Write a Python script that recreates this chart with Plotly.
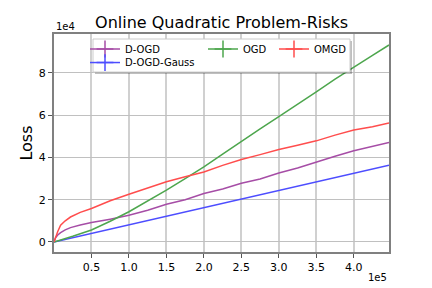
import plotly.graph_objects as go

# ---- data (x in samples, y in loss) ----
ogd_x = [0, 0.1e5, 0.25e5, 0.5e5, 0.75e5, 1.0e5, 1.25e5, 1.5e5, 1.75e5, 2.0e5, 2.25e5, 2.5e5,
         2.75e5, 3.0e5, 3.25e5, 3.5e5, 3.75e5, 4.0e5, 4.25e5, 4.47e5]
ogd_y = [0, 0.1e4, 0.27e4, 0.57e4, 0.98e4, 1.43e4, 1.93e4, 2.45e4, 3.0e4, 3.55e4, 4.15e4, 4.76e4,
         5.35e4, 5.93e4, 6.5e4, 7.1e4, 7.7e4, 8.28e4, 8.82e4, 9.31e4]

omgd_x = [0, 0.02e5, 0.05e5, 0.088e5, 0.15e5, 0.22e5, 0.35e5, 0.5e5, 0.75e5, 1.0e5, 1.25e5, 1.5e5,
          1.75e5, 2.0e5, 2.25e5, 2.5e5, 2.75e5, 3.0e5, 3.25e5, 3.5e5, 3.75e5, 4.0e5, 4.25e5, 4.47e5]
omgd_y = [0, 0.24e4, 0.5e4, 0.79e4, 1.0e4, 1.18e4, 1.4e4, 1.58e4, 1.95e4, 2.26e4, 2.57e4, 2.85e4,
          3.08e4, 3.31e4, 3.62e4, 3.9e4, 4.13e4, 4.37e4, 4.57e4, 4.78e4, 5.05e4, 5.29e4, 5.45e4, 5.63e4]

dogd_x = omgd_x
dogd_y = [0, 0.2e4, 0.33e4, 0.44e4, 0.57e4, 0.68e4, 0.8e4, 0.92e4, 1.08e4, 1.26e4, 1.5e4, 1.78e4,
          2.0e4, 2.29e4, 2.5e4, 2.78e4, 2.98e4, 3.26e4, 3.5e4, 3.79e4, 4.05e4, 4.31e4, 4.5e4, 4.7e4]

gauss_x = [0, 0.5e5, 1.0e5, 1.5e5, 2.0e5, 2.5e5, 3.0e5, 3.5e5, 4.0e5, 4.47e5]
gauss_y = [0, 0.41e4, 0.82e4, 1.23e4, 1.63e4, 2.03e4, 2.44e4, 2.85e4, 3.27e4, 3.63e4]

x_tick_vals = [0.5e5, 1.0e5, 1.5e5, 2.0e5, 2.5e5, 3.0e5, 3.5e5, 4.0e5]
x_tick_text = ["0.5", "1.0", "1.5", "2.0", "2.5", "3.0", "3.5", "4.0"]
y_tick_vals = [0, 2e4, 4e4, 6e4, 8e4]
y_tick_text = ["0", "2", "4", "6", "8"]

FONT = "DejaVu Sans"
colors = {"D-OGD": "#a64da6", "D-OGD-Gauss": "#4d4dff", "OGD": "#4da64d", "OMGD": "#ff4d4d"}
series = [("D-OGD", dogd_x, dogd_y), ("D-OGD-Gauss", gauss_x, gauss_y),
          ("OGD", ogd_x, ogd_y), ("OMGD", omgd_x, omgd_y)]

fig = go.Figure()
for name, xs, ys in series:
    fig.add_trace(go.Scatter(x=xs, y=ys, mode="lines", name=name, showlegend=False,
                             line=dict(color=colors[name], width=1.5)))

# legend-only entries, one legend per slot to mimic matplotlib layout
legend_slots = {"D-OGD": "legend", "OGD": "legend2", "OMGD": "legend3", "D-OGD-Gauss": "legend4"}
for name in ["D-OGD", "OGD", "OMGD", "D-OGD-Gauss"]:
    fig.add_trace(go.Scatter(x=[None], y=[None], mode="lines+markers", name=name,
                             legend=legend_slots[name],
                             line=dict(color=colors[name], width=1.5),
                             marker=dict(symbol="cross-thin", size=12,
                                         line=dict(color=colors[name], width=1.5))))

pw, ph = 335.0, 217.7
def lx(px):
    return (px - 54) / pw
def ly(py):
    return (251.7 - py) / ph

leg_common = dict(bgcolor="rgba(0,0,0,0)", borderwidth=0, font=dict(family=FONT, size=10, color="#000"),
                  xanchor="left", yanchor="middle", itemwidth=30)
fig.update_layout(
    legend=dict(x=lx(85), y=ly(49), **leg_common),
    legend2=dict(x=lx(203), y=ly(49), **leg_common),
    legend3=dict(x=lx(274), y=ly(49), **leg_common),
    legend4=dict(x=lx(85), y=ly(62.5), **leg_common),
)

# legend frame (shadow + box)
fig.add_shape(type="rect", xref="paper", yref="paper", layer="above",
              x0=lx(95), x1=lx(352), y0=ly(74), y1=ly(41),
              fillcolor="rgba(0,0,0,0.25)", line=dict(width=0))
fig.add_shape(type="rect", xref="paper", yref="paper", layer="above",
              x0=lx(93), x1=lx(350), y0=ly(72), y1=ly(39),
              fillcolor="white", line=dict(color="#cccccc", width=1))

fig.update_layout(
    width=432, height=288,
    margin=dict(l=54, r=43, t=34, b=36.3),
    paper_bgcolor="white", plot_bgcolor="white",
    font=dict(family=FONT, size=11, color="#000"),
    title=dict(text="Online Quadratic Problem-Risks", x=0.513, xanchor="center",
               y=1 - 22 / 288, yanchor="middle", font=dict(family=FONT, size=16, color="#000")),
    xaxis=dict(range=[0, 4.47e5], tickvals=x_tick_vals, ticktext=x_tick_text,
               showgrid=True, gridcolor="#d0d0d0", gridwidth=1.5, automargin=False,
               showline=True, linecolor="#808080", linewidth=2, mirror=True,
               ticks="outside", ticklen=4, tickcolor="#555", zeroline=False,
               tickfont=dict(family=FONT, size=11)),
    yaxis=dict(range=[-0.473e4, 9.83e4], tickvals=y_tick_vals, ticktext=y_tick_text,
               showgrid=True, gridcolor="#c0c0c0", gridwidth=1.2, automargin=False,
               showline=True, linecolor="#808080", linewidth=2, mirror=True,
               ticks="outside", ticklen=4, tickcolor="#555", zeroline=False,
               tickfont=dict(family=FONT, size=11),
               title=dict(text="Loss", font=dict(family=FONT, size=16), standoff=2)),
)

fig.add_annotation(text="1e4", xref="paper", yref="paper", x=0, y=1, xanchor="left", yanchor="bottom",
                   yshift=0, showarrow=False, font=dict(family=FONT, size=10))
fig.add_annotation(text="1e5", xref="paper", yref="paper", x=1, y=0, xanchor="right", yanchor="top",
                   yshift=-18, showarrow=False, font=dict(family=FONT, size=10))

fig.write_html("out.html", config={"displayModeBar": False},
               post_script="document.body.style.margin='0';document.body.style.padding='0';")
